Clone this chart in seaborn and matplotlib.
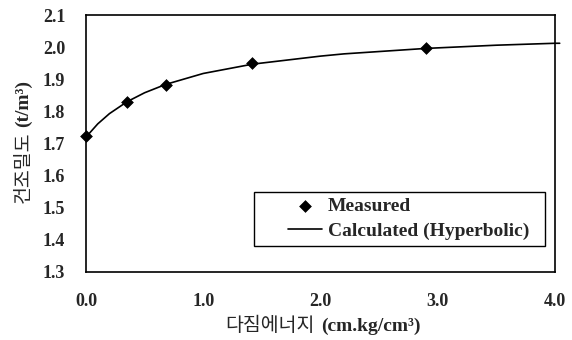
import matplotlib
matplotlib.use("Agg")
import matplotlib.pyplot as plt
from matplotlib.patches import Rectangle
import seaborn as sns
import pandas as pd

# Measured data
energy_measured = [0.0, 0.35, 0.68, 1.42, 2.90]
density_measured = [1.722, 1.830, 1.882, 1.952, 1.997]

# Calculated (hyperbolic) curve
energy_calc = [0.0, 0.1, 0.2, 0.35, 0.5, 0.68, 1.0, 1.42, 2.0, 2.2, 2.9, 3.5, 4.0, 4.04]
density_calc = [1.720, 1.761, 1.793, 1.830, 1.858, 1.884, 1.918, 1.947, 1.972, 1.979, 1.996, 2.006, 2.012, 2.012]

x_ticks = [0.0, 1.0, 2.0, 3.0, 4.0]
y_ticks = [1.3, 1.4, 1.5, 1.6, 1.7, 1.8, 1.9, 2.0, 2.1]

xlabel_kr = "다짐에너지"
xlabel_unit = "(cm.kg/cm³)"
ylabel_kr = "건조밀도"
ylabel_unit = "(t/m³)"

sns.set_style("white")
plt.rcParams['font.family'] = ['Liberation Serif', 'Noto Sans CJK KR', 'DejaVu Sans']

df_m = pd.DataFrame({"E": energy_measured, "rho": density_measured})
df_c = pd.DataFrame({"E": energy_calc, "rho": density_calc})

fig = plt.figure(figsize=(5.72, 3.40), dpi=100)
ax = fig.add_axes([86 / 572, 68 / 340, 469 / 572, 257 / 340])

sns.lineplot(data=df_c, x="E", y="rho", ax=ax, color="black", linewidth=1.2,
             label="Calculated (Hyperbolic)", sort=False, clip_on=False)
sns.scatterplot(data=df_m, x="E", y="rho", ax=ax, color="black", marker="D", s=36,
                edgecolor="black", label="Measured", zorder=5, clip_on=False)

ax.set_xlim(0, 4.0)
ax.set_ylim(1.3, 2.1)
ax.set_xticks(x_ticks)
ax.set_xticklabels([f"{v:.1f}" for v in x_ticks], fontsize=13, fontweight="bold")
ax.set_yticks(y_ticks)
ax.set_yticklabels([f"{v:.1f}" for v in y_ticks], fontsize=13, fontweight="bold")
ax.tick_params(direction="in", length=4, width=1, color="black")
ax.tick_params(axis="y", pad=15)
ax.tick_params(axis="x", pad=15)

for s in ax.spines.values():
    s.set_visible(True)
    s.set_color("black")
    s.set_linewidth(1.2)

ax.set_xlabel("")
ax.set_ylabel("")

# x label: Korean part regular, unit part bold
xb = -0.2296
xj = 0.503 - 7 / 469
ax.text(xj, xb, xlabel_kr, transform=ax.transAxes, ha="right", va="baseline",
        fontsize=14, fontweight="normal", clip_on=False)
ax.text(xj + 6 / 469, xb, xlabel_unit, transform=ax.transAxes, ha="left", va="baseline",
        fontsize=14, fontweight="bold", clip_on=False)

# y label: rotated, Korean regular, unit bold
yb = -0.1226
yj = 0.545
ax.text(yb, yj, ylabel_kr, transform=ax.transAxes, ha="right", va="baseline",
        rotation=90, rotation_mode="anchor", fontsize=14, fontweight="normal", clip_on=False)
ax.text(yb, yj + 5 / 257, ylabel_unit, transform=ax.transAxes, ha="left", va="baseline",
        rotation=90, rotation_mode="anchor", fontsize=14, fontweight="bold", clip_on=False)

# legend
handles, labels = ax.get_legend_handles_labels()
order = [labels.index("Measured"), labels.index("Calculated (Hyperbolic)")]
leg = ax.legend([handles[i] for i in order], [labels[i] for i in order],
                loc="upper left", bbox_to_anchor=((288 - 86) / 469, (272 - 197) / 257),
                frameon=False, prop={"weight": "bold", "size": 14},
                handlelength=1.75, handletextpad=0.3, borderpad=0, labelspacing=0.4,
                borderaxespad=0)
ax.add_patch(Rectangle(((254 - 86) / 469, (272 - 246) / 257), (545 - 254) / 469, (246 - 192) / 257,
                       transform=ax.transAxes, fill=False, edgecolor="black", linewidth=1.0,
                       zorder=6, clip_on=False))

fig.savefig("out.png", dpi=100)
